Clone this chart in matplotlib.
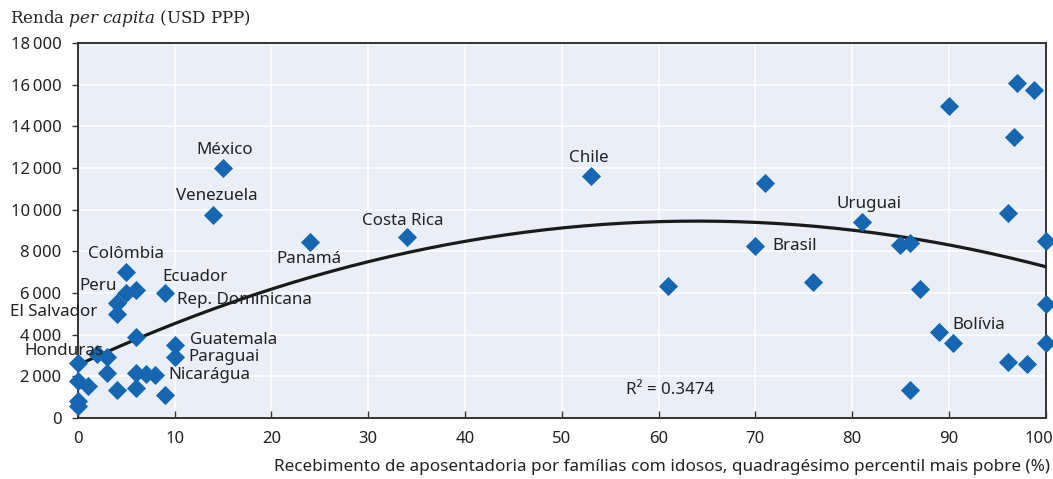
import matplotlib
matplotlib.use("Agg")
import matplotlib.pyplot as plt
import matplotlib.transforms as mtransforms
import numpy as np
from matplotlib.ticker import FuncFormatter

# ===============================
#  DATA
# ===============================
pension_pct = [0, 0, 0, 1, 0, 2, 3, 3, 4, 4, 4, 5, 5, 6, 6, 6, 6, 7, 8, 9, 9,
               10, 10, 14, 15, 24, 34, 53, 61, 70, 71, 76, 81, 85, 86, 87, 86,
               89, 90.4, 90, 97, 98.8, 96.7, 96.1, 100, 100, 100, 96.1, 98.1]
income_pc = [600, 800, 1800, 1550, 2650, 3100, 2950, 2150, 1350, 5000, 5550,
             7000, 6000, 6150, 3900, 2150, 1450, 2100, 2050, 1100, 6000,
             3500, 2950, 9750, 12000, 8450, 8700, 11600, 6350, 8250, 11300,
             6550, 9400, 8300, 8400, 6200, 1350, 4150, 3600, 15000, 16100,
             15750, 13500, 9850, 8500, 5500, 3600, 2700, 2600]

# quadratic trend shown on the chart (c2, c1, c0)
fit_coef = [-1.687, 215.9, 2550]
r_squared = "0.3474"

# country labels: (text, x, y) in data units, left aligned
country_labels = [
    ("México", 12.2, 12850),
    ("Venezuela", 10.1, 10650),
    ("Colômbia", 1.0, 7870),
    ("Ecuador", 8.7, 6770),
    ("Peru", 0.2, 6330),
    ("Rep. Dominicana", 10.2, 5660),
    ("El Salvador", -7.0, 5090),
    ("Guatemala", 11.6, 3740),
    ("Honduras", -5.5, 3220),
    ("Paraguai", 11.4, 2930),
    ("Nicarágua", 9.3, 2060),
    ("Panamá", 20.5, 7630),
    ("Costa Rica", 29.4, 9460),
    ("Chile", 50.7, 12480),
    ("Brasil", 71.8, 8260),
    ("Uruguai", 78.4, 10270),
    ("Bolívia", 90.4, 4460),
]

x_ticks = [0, 10, 20, 30, 40, 50, 60, 70, 80, 90, 100]
y_ticks = [0, 2000, 4000, 6000, 8000, 10000, 12000, 14000, 16000, 18000]

# ===============================
#  STYLE
# ===============================
SANS = ["Noto Sans", "DejaVu Sans"]
plt.rcParams["font.family"] = SANS
plt.rcParams["mathtext.fontset"] = "custom"
plt.rcParams["mathtext.rm"] = "DejaVu Serif"
plt.rcParams["mathtext.it"] = "DejaVu Serif:italic"

BLUE = "#1766b1"
BG = "#e9eef7"
TXT = "#222222"

fig = plt.figure(figsize=(10.53, 4.79), dpi=100)
ax = fig.add_axes([0.074, 0.127, 0.919, 0.783])
ax.set_facecolor(BG)

ax.set_xlim(0, 100)
ax.set_ylim(0, 18000)
ax.set_xticks(x_ticks)
ax.set_yticks(y_ticks)
ax.yaxis.set_major_formatter(FuncFormatter(lambda v, p: f"{int(v):,}".replace(",", "\u2009")))
ax.grid(True, color="white", linewidth=1.1)
ax.set_axisbelow(True)

for s in ax.spines.values():
    s.set_color("#333333")
    s.set_linewidth(1.4)

ax.tick_params(axis="x", direction="in", length=5, width=1, color="#333333",
               labelsize=12, labelcolor=TXT, pad=9)
ax.tick_params(axis="y", direction="out", length=4, width=1, color="#333333",
               labelsize=12, labelcolor=TXT, pad=8)

# keep "100" inside the figure like the original
last = ax.get_xticklabels()[-1]
last.set_transform(last.get_transform() +
                   mtransforms.ScaledTranslation(-7 / 100, 0, fig.dpi_scale_trans))

# trend line
xs = np.linspace(0, 100, 200)
ax.plot(xs, np.polyval(fit_coef, xs), color="#1a1a1a", linewidth=2.3, zorder=3)

# points
ax.scatter(pension_pct, income_pc, marker="D", s=95, color=BLUE,
           linewidths=0, zorder=4, clip_on=False)

for name, lx, ly in country_labels:
    ax.text(lx, ly, name, fontsize=12.2, color=TXT, ha="left", va="center",
            zorder=5, clip_on=False)

ax.text(56.6, 1340, "R\u00b2 = " + r_squared, fontsize=12.2, color=TXT,
        ha="left", va="center", zorder=5)

# axis titles
fig.text(0.0095, 0.962, r"Renda $\mathit{per\ capita}$ (USD PPP)",
         fontsize=12, color=TXT, ha="left", va="center", family="DejaVu Serif")
fig.text(0.997, 0.025,
         "Recebimento de aposentadoria por famílias com idosos, quadragésimo percentil mais pobre (%)",
         fontsize=12.3, color=TXT, ha="right", va="center")

fig.savefig("out.png", dpi=100)
